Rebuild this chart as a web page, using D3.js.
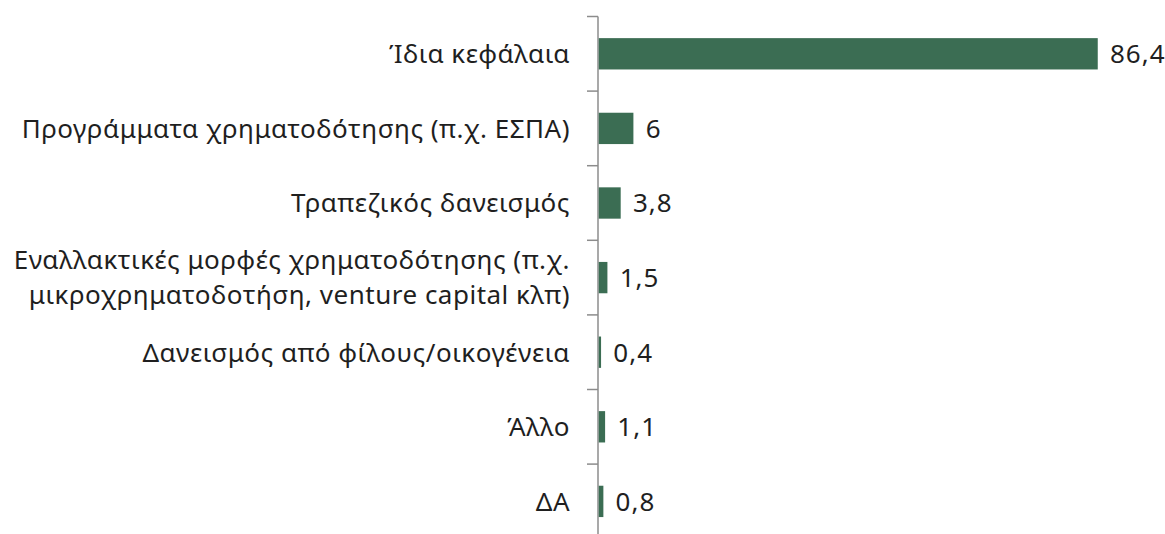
<!DOCTYPE html>
<html>
<head>
<meta charset="utf-8">
<script src="https://cdn.jsdelivr.net/npm/d3@7"></script>
<style>
  body { margin: 0; background: #fff; }
  svg text { font-family: "Noto Sans", sans-serif; fill: #1f1f1f; }
</style>
</head>
<body>
<div id="chart"></div>
<script>
// categories, top to bottom
const categories = [
    ["Ίδια κεφάλαια"],
    ["Προγράμματα χρηματοδότησης (π.χ. ΕΣΠΑ)"],
    ["Τραπεζικός δανεισμός"],
    ["Εναλλακτικές μορφές χρηματοδότησης (π.χ.", "μικροχρηματοδοτήση, venture capital κλπ)"],
    ["Δανεισμός από φίλους/οικογένεια"],
    ["Άλλο"],
    ["ΔΑ"]
];
const values = [86.4, 6, 3.8, 1.5, 0.4, 1.1, 0.8];
const valueLabels = ["86,4", "6", "3,8", "1,5", "0,4", "1,1", "0,8"];

let width = 1165, height = 534;
let axisX = 598, plotTop = 16.5, band = 74.6;

let svg = d3.select("#chart")
    .append("svg")
    .attr("width", width)
    .attr("height", height);

let ids = d3.range(categories.length);
let y = d3.scaleBand()
    .domain(ids)
    .range([plotTop, plotTop + band * categories.length])
    .paddingInner(0.58)
    .paddingOuter(0.29);

let x = d3.scaleLinear()
    .domain([0, 86.4])
    .range([axisX, 1097]);

// axis line + ticks at category boundaries
let g = svg.append("g");
g.append("line")
    .attr("x1", axisX).attr("x2", axisX)
    .attr("y1", plotTop).attr("y2", plotTop + band * categories.length)
    .attr("stroke", "#8c8c8c").attr("stroke-width", 1.5);
d3.range(categories.length + 1).forEach(i => {
    g.append("line")
        .attr("x1", axisX - 11).attr("x2", axisX)
        .attr("y1", plotTop + band * i).attr("y2", plotTop + band * i)
        .attr("stroke", "#8c8c8c").attr("stroke-width", 1.5);
});

// bars
svg.selectAll("rect.bar")
    .data(values)
    .enter()
    .append("rect")
    .attr("class", "bar")
    .attr("x", x(0) + 0.75)
    .attr("y", (d, i) => y(i))
    .attr("width", d => x(d) - x(0))
    .attr("height", y.bandwidth())
    .attr("fill", "#3b6d53");

// value labels
svg.selectAll("text.val")
    .data(values)
    .enter()
    .append("text")
    .attr("class", "val")
    .attr("x", d => x(d) + 13)
    .attr("y", (d, i) => y(i) + y.bandwidth() / 2)
    .attr("dy", "0.36em")
    .style("font-size", "26px")
    .style("letter-spacing", "1px")
    .text((d, i) => valueLabels[i]);

// category labels
categories.forEach((lines, i) => {
    let cy = y(i) + y.bandwidth() / 2;
    let t = svg.append("text")
        .attr("text-anchor", "end")
        .style("font-size", "26px")
        .style("letter-spacing", "0.5px");
    lines.forEach((line, j) => {
        t.append("tspan")
            .attr("x", 570)
            .attr("y", cy + (j - (lines.length - 1) / 2) * 35)
            .attr("dy", "0.36em")
            .text(line);
    });
});
</script>
</body>
</html>
